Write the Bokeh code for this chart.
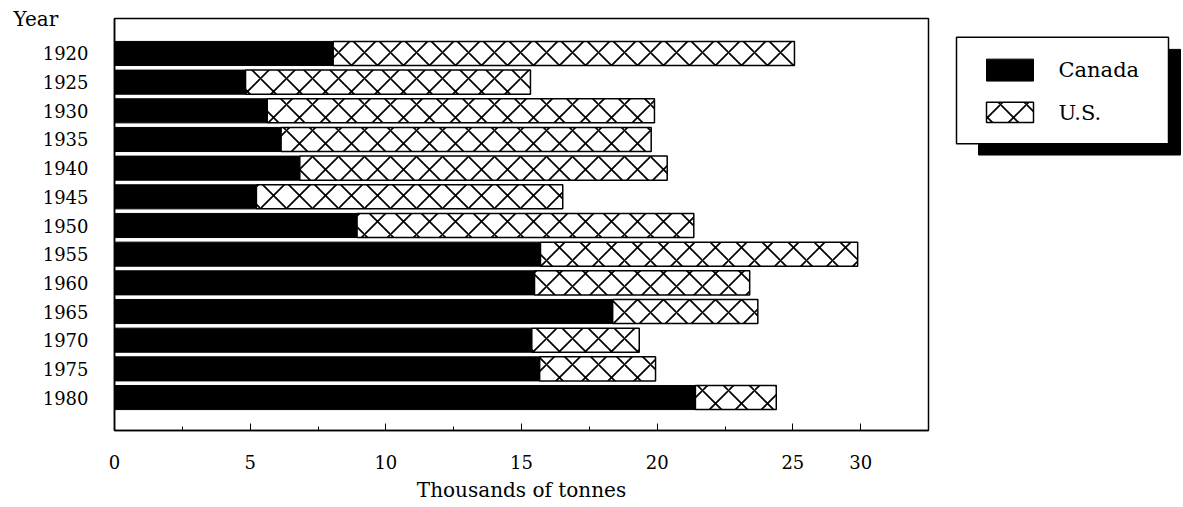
from bokeh.plotting import figure
from bokeh.models import ColumnDataSource, Range1d, FixedTicker
from bokeh.layouts import row
from bokeh.embed import file_html
from bokeh.resources import INLINE
from bokeh.core.properties import value

# ---- data (thousands of tonnes) ----
years = ["1920", "1925", "1930", "1935", "1940", "1945", "1950",
         "1955", "1960", "1965", "1970", "1975", "1980"]
canada = [8.06, 4.83, 5.63, 6.14, 6.83, 5.23, 8.94,
          15.70, 15.48, 18.36, 15.38, 15.67, 21.41]
us = [17.00, 10.50, 14.27, 13.64, 13.54, 11.29, 12.41,
      11.69, 7.93, 5.35, 3.96, 4.27, 2.98]
series_names = ["Canada", "U.S."]
x_tick_values = [0, 5, 10, 15, 20, 25, 27.5]
x_tick_labels = ["0", "5", "10", "15", "20", "25", "30"]
x_minor_ticks = [2.5, 7.5, 12.5, 17.5, 22.5]
y_title = "Year"
x_title = "Thousands of tonnes"

FONT = "DejaVu Serif"
H = 507
HATCH = 26

idx = list(range(len(years)))
total = [c + u for c, u in zip(canada, us)]
src = ColumnDataSource(dict(y=idx, zero=[0] * len(years), canada=canada, total=total))

p = figure(width=948, height=H, output_backend="svg", toolbar_location=None,
           x_range=Range1d(0, 30), y_range=Range1d(len(years) - 1 + 1.15, -1.22),
           min_border_left=114, min_border_right=20, min_border_top=18, min_border_bottom=77)
p.outline_line_color = "black"
p.outline_line_width = 1.5
p.xgrid.visible = False
p.ygrid.visible = False
p.background_fill_color = "white"
p.border_fill_color = "white"

# "Year" heading at top-left, drawn as the plot title
p.title.text = y_title
p.title.align = "left"
p.title.offset = -101
p.title.standoff = -25
p.title.text_font = FONT
p.title.text_font_size = "20px"
p.title.text_font_style = "normal"
p.title.text_color = "black"

BAR_H = 0.84
p.hbar(y="y", left="zero", right="canada", height=BAR_H, source=src,
       fill_color="black", line_color="black", line_width=1)
p.hbar(y="y", left="canada", right="total", height=BAR_H, source=src,
       fill_color="white", line_color="black", line_width=1.5,
       hatch_pattern="diagonal_cross", hatch_color="black", hatch_scale=HATCH, hatch_weight=1.7)

# x axis
xa = p.xaxis[0]
xa.ticker = FixedTicker(ticks=x_tick_values, minor_ticks=x_minor_ticks)
xa.major_label_overrides = {v: l for v, l in zip(x_tick_values, x_tick_labels)}
xa.major_tick_in = 7
xa.major_tick_out = 0
xa.minor_tick_in = 4
xa.minor_tick_out = 0
xa.major_tick_line_color = "black"
xa.axis_line_color = "black"
xa.axis_line_width = 1.5
xa.major_label_text_font = FONT
xa.major_label_text_font_size = "18px"
xa.major_label_text_color = "black"
xa.major_label_standoff = 24
xa.axis_label = x_title
xa.axis_label_text_font = FONT
xa.axis_label_text_font_size = "20px"
xa.axis_label_text_font_style = "normal"
xa.axis_label_text_color = "black"
xa.axis_label_standoff = 6

# y axis
ya = p.yaxis[0]
ya.ticker = FixedTicker(ticks=idx, minor_ticks=[])
ya.major_label_overrides = {i: y for i, y in zip(idx, years)}
ya.major_tick_in = 0
ya.major_tick_out = 0
ya.minor_tick_in = 0
ya.minor_tick_out = 0
ya.axis_line_color = "black"
ya.axis_line_width = 1.5
ya.major_label_text_font = FONT
ya.major_label_text_font_size = "18px"
ya.major_label_text_color = "black"
ya.major_label_standoff = 26

# ---- legend panel ----
W2 = 233
lg = figure(width=W2, height=H, output_backend="svg", toolbar_location=None,
            x_range=Range1d(0, W2), y_range=Range1d(H, 0),
            x_axis_type=None, y_axis_type=None,
            min_border_left=0, min_border_right=0, min_border_top=0, min_border_bottom=0)
lg.outline_line_color = None
lg.grid.visible = False
lg.border_fill_color = "white"
lg.background_fill_color = "white"

# shadow
lg.quad(left=[30], right=[232], top=[38], bottom=[168], fill_color="black", line_color="black")
# box
lg.quad(left=[8], right=[220], top=[23], bottom=[154], fill_color="white",
        line_color="black", line_width=1.5)
# swatches
lg.quad(left=[38], right=[85], top=[50], bottom=[77], fill_color="black", line_color="black")
lg.quad(left=[38], right=[85], top=[103], bottom=[128], fill_color="white", line_color="black",
        line_width=1.5, hatch_pattern="diagonal_cross", hatch_color="black",
        hatch_scale=HATCH, hatch_weight=1.7)
lg.text(x=[110, 110], y=[63.5, 116], text=series_names, text_font=value(FONT),
        text_font_size="21px", text_color="black", text_baseline="middle", text_align="left")

layout = row(p, lg)
open("out.html", "w").write(file_html(layout, INLINE))
